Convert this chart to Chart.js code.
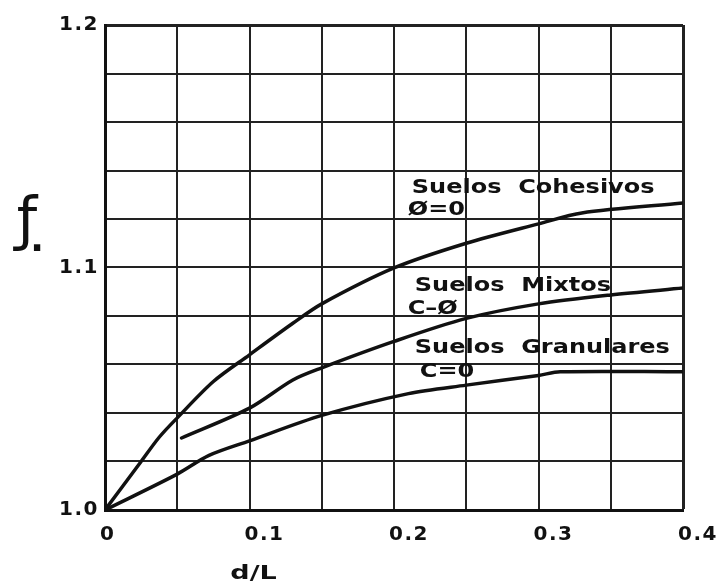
<!DOCTYPE html>
<html><head><meta charset="utf-8">
<script src="https://cdn.jsdelivr.net/npm/chart.js@4"></script>
<style>html,body{margin:0;padding:0;background:#fff}#wrap{width:725px;height:588px}</style>
</head><body><div id="wrap"><canvas id="c" width="725" height="588"></canvas></div>
<script>
// ---- data ----
const cohesivosX = [0, 0.025, 0.0375, 0.05, 0.075, 0.1, 0.13, 0.15, 0.2, 0.25, 0.3, 0.33, 0.4];
const cohesivosY = [1.0, 1.02, 1.03, 1.038, 1.053, 1.064, 1.077, 1.085, 1.0998, 1.11, 1.118, 1.1225, 1.1266];
const mixtosX = [0.053, 0.1, 0.13, 0.15, 0.2, 0.25, 0.3, 0.35, 0.4];
const mixtosY = [1.0297, 1.042, 1.0536, 1.0586, 1.0695, 1.079, 1.085, 1.0887, 1.0915];
const granularesX = [0, 0.05, 0.072, 0.1, 0.15, 0.21, 0.25, 0.3, 0.315, 0.4];
const granularesY = [1.0, 1.0148, 1.0225, 1.0285, 1.039, 1.048, 1.0515, 1.0555, 1.057, 1.057];
const xTickLabels = ['0', '0.1', '0.2', '0.3', '0.4'];
const yTickLabels = ['1.0', '1.1', '1.2'];
const curveLabels = [
  {text: 'Suelos  Cohesivos', x: 0.2123, y: 1.1328},
  {text: 'Ø=0', x: 0.2095, y: 1.1237},
  {text: 'Suelos  Mixtos', x: 0.2144, y: 1.0924},
  {text: 'C–Ø', x: 0.2095, y: 1.0829},
  {text: 'Suelos  Granulares', x: 0.2144, y: 1.0668},
  {text: 'C=0', x: 0.2179, y: 1.0569}
];
const xTitle = 'd/L';
const yTitle = 'ƒ';

const toXY = (xs, ys) => xs.map((x, i) => ({x: x, y: ys[i]}));
const FONT = '"DejaVu Sans", "Liberation Sans", sans-serif';
const INK = '#111';

const lineStyle = {borderColor: INK, borderWidth: 3.5, pointRadius: 0, showLine: true, fill: false, tension: 0.3, borderCapStyle: 'round', borderJoinStyle: 'round'};

const spacingPlugin = {
  id: 'spacing',
  beforeDraw(chart) { chart.ctx.letterSpacing = '1.5px'; }
};

function stretchedText(ctx, text, x, y, sx) {
  ctx.save();
  ctx.translate(x, y);
  ctx.scale(sx, 1);
  ctx.fillText(text, 0, 0);
  ctx.restore();
}

const labelPlugin = {
  id: 'labels',
  afterDatasetsDraw(chart) {
    const ctx = chart.ctx, xs = chart.scales.x, ys = chart.scales.y;
    ctx.save();
    ctx.fillStyle = INK;
    ctx.letterSpacing = '0px';
    ctx.font = 'bold 20px ' + FONT;
    ctx.textAlign = 'left';
    ctx.textBaseline = 'middle';
    curveLabels.forEach(l => stretchedText(ctx, l.text, xs.getPixelForValue(l.x), ys.getPixelForValue(l.y), 1.2));
    // x title under 0.1
    ctx.textAlign = 'center';
    stretchedText(ctx, xTitle, xs.getPixelForValue(0.1) + 4, 574, 1.35);
    // y title
    ctx.font = '58px ' + FONT;
    ctx.fillText(yTitle, 27, 224);
    ctx.font = 'bold 36px ' + FONT;
    ctx.fillText('.', 37, 242);
    ctx.restore();
  }
};

const isTenth = v => Math.abs(v * 10 - Math.round(v * 10)) < 1e-6;

new Chart(document.getElementById('c'), {
  type: 'scatter',
  data: {
    datasets: [
      Object.assign({label: 'Suelos Cohesivos', data: toXY(cohesivosX, cohesivosY)}, lineStyle),
      Object.assign({label: 'Suelos Mixtos', data: toXY(mixtosX, mixtosY)}, lineStyle),
      Object.assign({label: 'Suelos Granulares', data: toXY(granularesX, granularesY)}, lineStyle)
    ]
  },
  options: {
    responsive: false,
    animation: false,
    devicePixelRatio: 1,
    layout: {padding: {left: 0, top: 25, right: 42, bottom: 0}},
    plugins: {legend: {display: false}, tooltip: {enabled: false}},
    scales: {
      x: {
        type: 'linear', min: 0, max: 0.4,
        afterFit(s) { s.height = 78; s.paddingRight = 0; s.paddingLeft = 0; },
        border: {color: INK, width: 3},
        grid: {color: '#222', lineWidth: c => (c.tick && Math.abs(c.tick.value - 0.4) < 1e-9) ? 3 : 2, drawTicks: false},
        ticks: {
          stepSize: 0.05, autoSkip: false, maxRotation: 0, align: 'start', labelOffset: -5, padding: 13,
          color: INK, font: {family: FONT, size: 20, weight: 'bold'},
          callback: v => isTenth(v) ? xTickLabels[Math.round(v * 10)] : ''
        }
      },
      y: {
        type: 'linear', min: 1.0, max: 1.2,
        afterFit(s) { s.width = 105; s.paddingTop = 0; s.paddingBottom = 0; },
        border: {color: INK, width: 3},
        grid: {color: '#222', lineWidth: c => (c.tick && Math.abs(c.tick.value - 1.2) < 1e-9) ? 3 : 2, drawTicks: false},
        ticks: {
          stepSize: 0.02, autoSkip: false, padding: 6,
          color: INK, font: {family: FONT, size: 20, weight: 'bold'},
          callback: v => isTenth(v) ? yTickLabels[Math.round((v - 1) * 10)] : ''
        }
      }
    }
  },
  plugins: [spacingPlugin, labelPlugin]
});
</script>
</body></html>
